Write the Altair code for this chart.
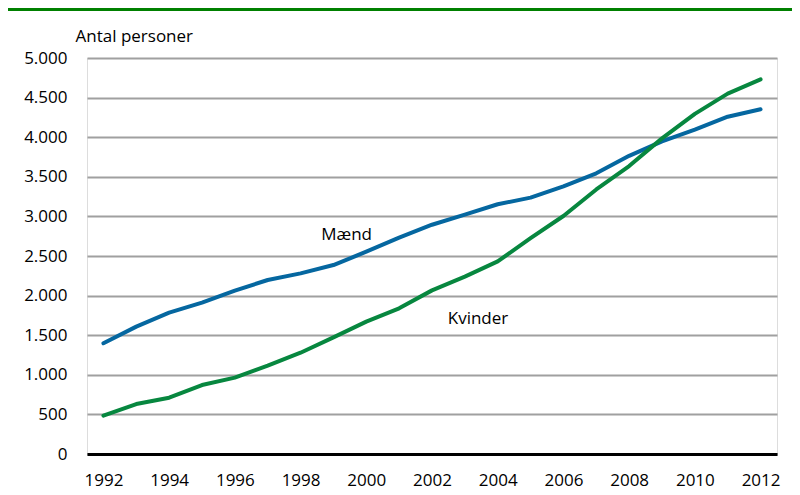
import altair as alt
import pandas as pd

years = list(range(1992, 2013))
maend = [1398, 1608, 1784, 1911, 2062, 2197, 2281, 2386, 2554, 2732, 2895,
         3022, 3153, 3237, 3380, 3544, 3765, 3948, 4095, 4259, 4352]
kvinder = [484, 631, 711, 871, 964, 1115, 1279, 1473, 1671, 1839, 2066,
           2239, 2432, 2725, 3005, 3340, 3636, 3985, 4295, 4550, 4731]
series_names = ["Mænd", "Kvinder"]
series_colors = ["#0567a0", "#07873f"]
label_x = [1999.4, 2003.4]
label_y = [2765, 1705]

rows = []
for y, m, k in zip(years, maend, kvinder):
    rows.append({"year": y, "value": m, "serie": "Mænd"})
    rows.append({"year": y, "value": k, "serie": "Kvinder"})
df = pd.DataFrame(rows)
labels = pd.DataFrame({"year": label_x, "value": label_y, "text": series_names})

FONT = "Open Sans"
FS = 17

x = alt.X("year:Q",
          scale=alt.Scale(domain=[1991.5, 2012.5], nice=False, zero=False),
          axis=alt.Axis(values=list(range(1992, 2013, 2)), format="d", title=None,
                        grid=False, ticks=False, domain=True, domainColor="black",
                        domainWidth=3, labelFont=FONT, labelFontSize=FS,
                        labelColor="black", labelPadding=18, labelFlush=False,
                        labelOverlap=False))
y = alt.Y("value:Q",
          scale=alt.Scale(domain=[0, 5000], nice=False),
          axis=alt.Axis(values=list(range(0, 5001, 500)), domain=False, ticks=False,
                        grid=True, gridColor="#a0a0a0", gridWidth=2,
                        labelExpr="replace(format(datum.value, ','), ',', '.')",
                        labelFont=FONT, labelFontSize=FS, labelColor="black",
                        labelPadding=20, labelOverlap=False,
                        title="Antal personer", titleAngle=0,
                        titleAlign="left", titleBaseline="alphabetic",
                        titleX=-12, titleY=-17, titleFont=FONT, titleFontSize=FS,
                        titleFontWeight="normal", titleColor="black"))

lines = alt.Chart(df).mark_line(strokeWidth=4, strokeCap="round", strokeJoin="round").encode(
    x=x, y=y,
    color=alt.Color("serie:N", scale=alt.Scale(domain=series_names, range=series_colors),
                    legend=None),
)

text = alt.Chart(labels).mark_text(font=FONT, fontSize=FS, color="black",
                                   align="center", baseline="middle").encode(
    x=x, y=y, text="text:N")

top_rule = alt.Chart(pd.DataFrame({"a": [0]})).mark_rule(
    color="#008000", strokeWidth=3, clip=False).encode(
    x=alt.value(-84), x2=alt.value(713), y=alt.value(-48.5))

chart = alt.layer(lines, text, top_rule).properties(
    width=690, height=396,
    autosize=alt.AutoSizeParams(type="none"),
    padding={"left": 79, "top": 50, "right": 15, "bottom": 40},
).configure_view(stroke=None).configure(background="white")

chart.save("out.html", embed_options={"renderer": "svg", "actions": False})
